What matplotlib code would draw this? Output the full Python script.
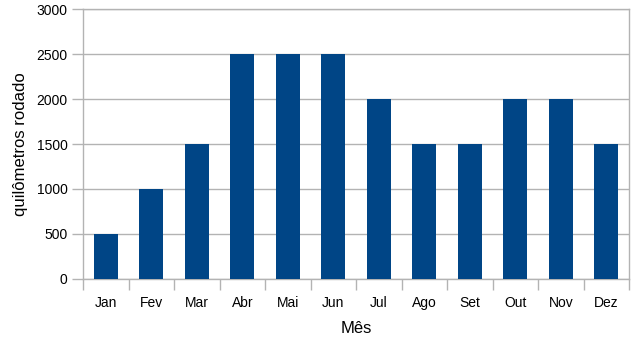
import matplotlib.pyplot as plt
import numpy as np

meses = ['Jan', 'Fev', 'Mar', 'Abr', 'Mai', 'Jun', 'Jul', 'Ago', 'Set', 'Out', 'Nov', 'Dez']
km = [500, 1000, 1500, 2500, 2500, 2500, 2000, 1500, 1500, 2000, 2000, 1500]
y_ticks = [0, 500, 1000, 1500, 2000, 2500, 3000]

plt.rcParams['font.family'] = ['Liberation Sans', 'DejaVu Sans']
grey = '#b3b3b3'

fig = plt.figure(figsize=(6.4, 3.47), dpi=100)
ax = fig.add_axes([0.1297, 0.196, 0.8533, 0.778])

x = np.arange(len(meses))
ax.bar(x, km, width=0.53, color='#004586', zorder=3)

ax.set_xlim(-0.5, len(meses) - 0.5)
ax.set_ylim(0, 3000)
ax.set_yticks(y_ticks)
ax.set_yticklabels([str(v) for v in y_ticks], fontsize=10)
ax.yaxis.grid(True, color=grey, linewidth=1, zorder=0)

# category labels centred, ticks between categories
ax.set_xticks(x)
ax.set_xticklabels(meses, fontsize=10)
ax.tick_params(axis='x', length=0, pad=12)
ax.set_xticks(np.arange(len(meses) + 1) - 0.5, minor=True)
ax.tick_params(axis='x', which='minor', length=8, color=grey, width=1)
ax.tick_params(axis='y', length=8, color=grey, width=1, pad=3)

for s in ax.spines.values():
    s.set_color(grey)
    s.set_linewidth(1)

ax.set_xlabel('Mês', fontsize=12, labelpad=8)
ax.set_ylabel('quilômetros rodado', fontsize=12, labelpad=6)

fig.savefig('out.png', dpi=100)
